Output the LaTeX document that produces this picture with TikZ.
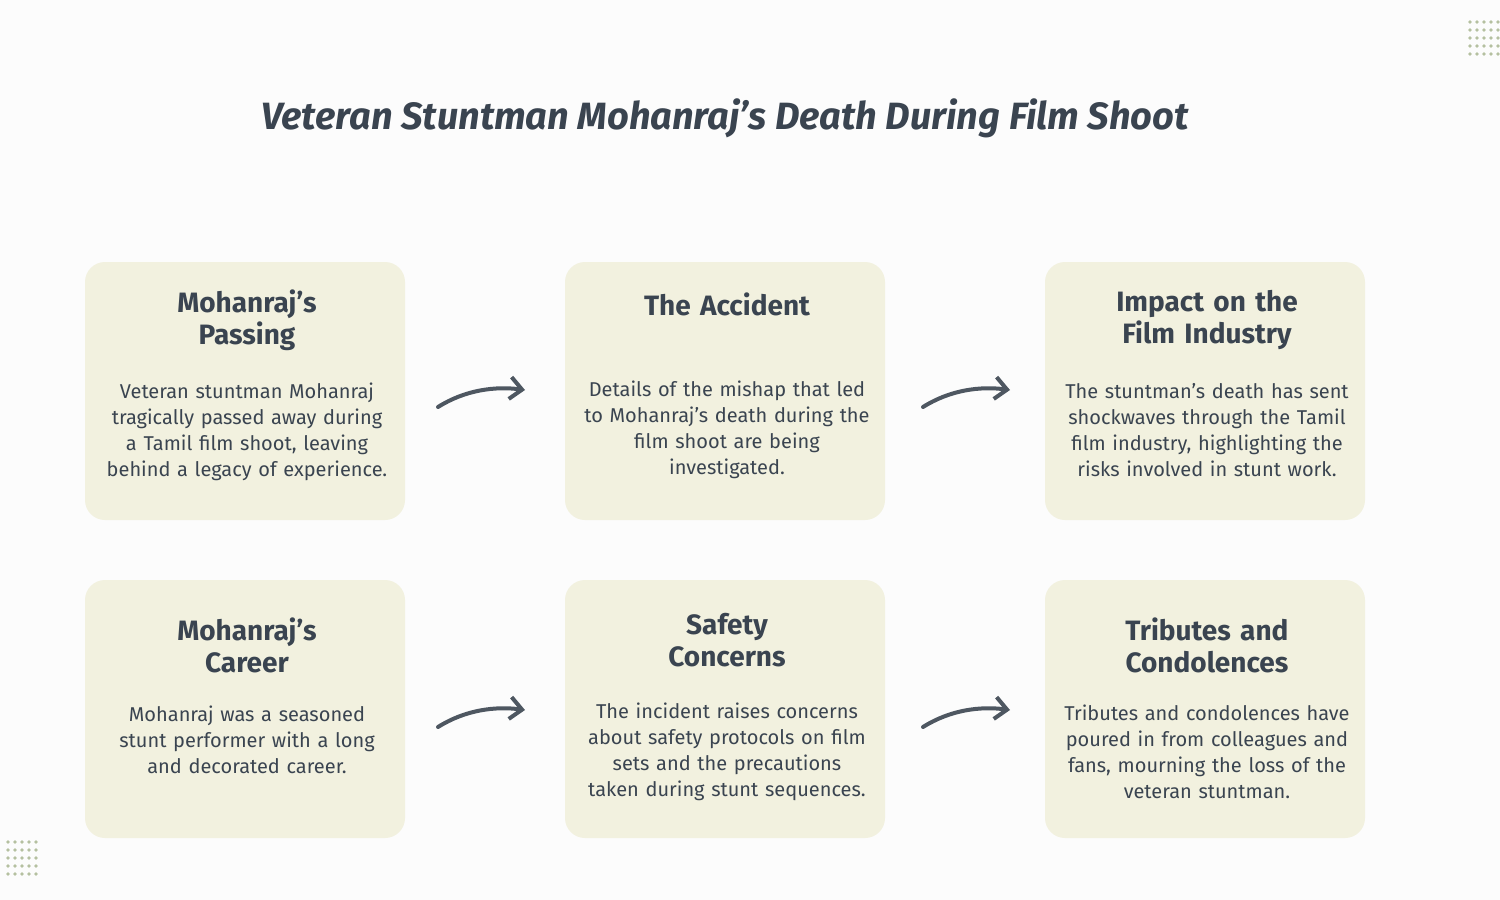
\documentclass[tikz,border=0pt]{standalone}
\usepackage{fontspec}
\usetikzlibrary{arrows.meta}
\setmainfont{Fira Sans}
\definecolor{boxc}{HTML}{F2F1DF}
\definecolor{txt}{HTML}{3A4450}
\definecolor{dotc}{HTML}{B5C0A0}
\begin{document}
\begin{tikzpicture}[x=0.5pt,y=-0.5pt,
 card/.style={fill=boxc,draw=none,rounded corners=10pt},
 head/.style={text=txt,font=\fontsize{14}{16}\selectfont\bfseries,align=center,text width=150pt},
 body/.style={text=txt,font=\fontsize{10}{13}\selectfont,align=center,text width=155pt},
 arr/.style={draw=txt!90,line width=2pt,line cap=round,-{Straight Barb[length=6pt,width=11pt]}}]
\useasboundingbox[fill=white!98!gray] (0,0) rectangle (1500,900);
\node[text=txt,font=\fontsize{19}{22}\selectfont\bfseries\itshape] (t) at (725,118) {Veteran Stuntman Mohanraj's Death During Film Shoot};
\foreach \n/\x/\y/\h/\hy/\b/\by in {
a/85/262/{Mohanraj's\\Passing}/320/{Veteran stuntman Mohanraj\\tragically passed away during\\a Tamil film shoot, leaving\\behind a legacy of experience.}/432,
b/565/262/{The Accident}/304/{Details of the mishap that led\\to Mohanraj's death during the\\film shoot are being\\investigated.}/430,
c/1045/262/{Impact on the\\Film Industry}/320/{The stuntman's death has sent\\shockwaves through the Tamil\\film industry, highlighting the\\risks involved in stunt work.}/430,
d/85/580/{Mohanraj's\\Career}/645/{Mohanraj was a seasoned\\stunt performer with a long\\and decorated career.}/740,
e/565/580/{Safety\\Concerns}/640/{The incident raises concerns\\about safety protocols on film\\sets and the precautions\\taken during stunt sequences.}/752,
f/1045/580/{Tributes and\\Condolences}/645/{Tributes and condolences have\\poured in from colleagues and\\fans, mourning the loss of the\\veteran stuntman.}/752}{
 \path[card] (\x,\y) rectangle ++(320,258);
 \node[head] (\n h) at (\x+162,\hy) {\h};
 \node[body] (\n b) at (\x+162,\by) {\b};
}
\foreach \y in {0,320}{
 \foreach \x in {0,485}{
  \draw[arr] (438+\x,407+\y) .. controls (465+\x,390+\y) and (495+\x,386+\y) .. (525+\x,390+\y);
 }}
\foreach \i in {0,...,4}{\foreach \j in {0,...,4}{
 \fill[dotc] (1470+\i*7,22+\j*8) circle (0.9pt);
 \fill[dotc] (8+\i*7,842+\j*8) circle (0.9pt);}}
\end{tikzpicture}
\end{document}
